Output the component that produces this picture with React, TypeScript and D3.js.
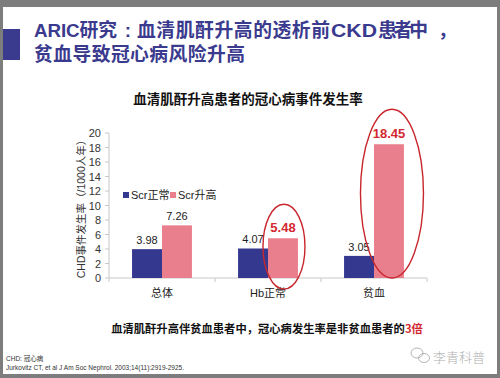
import React from "react";
import * as d3 from "d3";

const categories = ["总体", "Hb正常", "贫血"];
const seriesNames = ["Scr正常", "Scr升高"];
const scrNormal = [3.98, 4.07, 3.05];
const scrHigh = [7.26, 5.48, 18.45];
const yTicks = [0, 2, 4, 6, 8, 10, 12, 14, 16, 18, 20];
const highlighted = [false, true, true];

const W = 500;
const H = 378;
const BLUE = "#35388f";
const PINK = "#e97f8c";
const RED = "#d3282f";
const TITLE_BLUE = "#3a3a8e";
const CJK = "'Noto Sans CJK SC', 'Liberation Sans', sans-serif";
const LAT = "'Liberation Sans', Arial, 'Noto Sans CJK SC', sans-serif";

export default function App() {
  const x0 = d3.scaleBand<string>().domain(categories).range([109, 427]).padding(0);
  const bw = x0.bandwidth();
  const x1 = d3.scaleBand<string>().domain(seriesNames).range([0, bw]).paddingInner(0).paddingOuter(0.77);
  const y = d3.scaleLinear().domain([0, 20]).range([278, 133]);
  const data = categories.map((c, i) => ({ c, vals: [scrNormal[i], scrHigh[i]] }));

  const tProps = { fontWeight: "bold", fontSize: 18.8, fill: TITLE_BLUE } as const;

  return (
    <svg width={W} height={H} style={{ position: "absolute", left: 0, top: 0 }}>
      <rect x={0} y={0} width={W} height={H} fill="#7d7d7d" />
      <rect x={3} y={7} width={494} height={367} fill="#ffffff" />
      <rect x={3} y={29} width={17} height={31} fill={TITLE_BLUE} />
      <text x={34} y={37} fontFamily={LAT} {...tProps} textLength={83} lengthAdjust="spacing">ARIC研究</text>
      <text x={128} y={37} fontFamily={LAT} {...tProps} textAnchor="middle">:</text>
      <text x={137} y={37} fontFamily={CJK} {...tProps} textLength={193} lengthAdjust="spacing">血清肌酐升高的透析前</text>
      <text x={331} y={37} fontFamily={LAT} {...tProps} textLength={46} lengthAdjust="spacingAndGlyphs">CKD</text>
      <text x={378} y={37} fontFamily={CJK} {...tProps} textLength={50} lengthAdjust="spacing">患者中</text>
      <text x={438} y={37} fontFamily={CJK} {...tProps}>，</text>
      <text x={34} y={61} fontFamily={CJK} {...tProps} textLength={211} lengthAdjust="spacing">
        贫血导致冠心病风险升高
      </text>
      <text x={248} y={104} textAnchor="middle" fontFamily={CJK} fontWeight="bold" fontSize={13.5} fill="#111">
        血清肌酐升高患者的冠心病事件发生率
      </text>

      {/* y axis */}
      <line x1={109} x2={109} y1={y(20)} y2={y(0)} stroke="#c8c8c8" />
      {yTicks.map((t) => (
        <g key={t}>
          <line x1={105} x2={109} y1={y(t)} y2={y(t)} stroke="#c8c8c8" />
          <text x={101} y={y(t) + 4} textAnchor="end" fontFamily={LAT} fontSize={11} fill="#333">
            {t}
          </text>
        </g>
      ))}
      <text
        transform={`translate(84.5,${(143 + 270) / 2}) rotate(-90)`}
        textAnchor="middle"
        fontFamily={LAT}
        fontSize={10.5}
        fill="#333"
      >
        CHD事件发生率（/1000人年）
      </text>

      {/* x axis */}
      <line x1={109} x2={427} y1={y(0)} y2={y(0)} stroke="#c8c8c8" />
      {[...categories.map((c) => x0(c) as number), 427].map((v, i) => (
        <line key={i} x1={v} x2={v} y1={y(0)} y2={y(0) + 4} stroke="#c8c8c8" />
      ))}
      {categories.map((c) => (
        <text key={c} x={(x0(c) as number) + bw / 2} y={297} textAnchor="middle" fontFamily={LAT} fontSize={11} fill="#222">
          {c}
        </text>
      ))}

      {/* bars */}
      {data.map((d, i) => (
        <g key={d.c} transform={`translate(${x0(d.c)},0)`}>
          {d.vals.map((v, j) => {
            const bx = x1(seriesNames[j]) as number;
            const isRed = j === 1 && highlighted[i];
            return (
              <g key={j}>
                <rect x={bx} y={y(v)} width={x1.bandwidth()} height={y(0) - y(v)} fill={j === 0 ? BLUE : PINK} />
                <text
                  x={bx + x1.bandwidth() / 2}
                  y={y(v) - (isRed ? 6 : 5)}
                  textAnchor="middle"
                  fontFamily={LAT}
                  fontSize={isRed ? 13 : 11}
                  fontWeight={isRed ? "bold" : "normal"}
                  fill={isRed ? RED : "#222"}
                >
                  {v.toFixed(2)}
                </text>
              </g>
            );
          })}
        </g>
      ))}

      {/* highlight ellipses */}
      {(() => {
        const c1 = (x0(categories[1]) as number) + (x1(seriesNames[1]) as number) + x1.bandwidth() / 2;
        const c2 = (x0(categories[2]) as number) + (x1(seriesNames[1]) as number) + x1.bandwidth() / 2;
        const top1 = y(scrHigh[1]) - 34;
        const bot1 = y(0) + 11;
        const top2 = y(scrHigh[2]) - 35;
        const bot2 = y(0);
        return (
          <g fill="none" stroke="#c8262c" strokeWidth={1.4}>
            <ellipse cx={c1 + 1} cy={(top1 + bot1) / 2} rx={21} ry={(bot1 - top1) / 2} />
            <ellipse cx={c2 + 3} cy={(top2 + bot2) / 2} rx={31.5} ry={(bot2 - top2) / 2} />
          </g>
        );
      })()}

      {/* legend */}
      <rect x={123} y={192} width={6} height={6} fill={BLUE} />
      <text x={131} y={198.5} fontFamily={LAT} fontSize={11} fill="#222">Scr正常</text>
      <rect x={170} y={192} width={6} height={6} fill={PINK} />
      <text x={178} y={198.5} fontFamily={LAT} fontSize={11} fill="#222">Scr升高</text>

      {/* bottom note */}
      <text x={267} y={333} textAnchor="middle" fontFamily={CJK} fontWeight="bold" fontSize={11.3} fill="#111">
        血清肌酐升高伴贫血患者中，冠心病发生率是非贫血患者的<tspan fill={RED}>3倍</tspan>
      </text>

      <text x={6} y={361} fontFamily={LAT} fontSize={6.5} fill="#333">CHD: 冠心病</text>
      <text x={6} y={370} fontFamily={LAT} fontSize={6.5} fill="#333">
        Jurkovitz CT, et al J Am Soc Nephrol. 2003;14(11):2919-2925.
      </text>

      {/* watermark */}
      <g fill="none" stroke="#b5b5b5" strokeWidth={1}>
        <ellipse cx={417} cy={353} rx={6} ry={5} />
        <ellipse cx={424} cy={358} rx={5.5} ry={4.5} />
      </g>
      <text x={433} y={362} fontFamily={CJK} fontSize={13} fill="#b0b0b0" fontWeight={300}>
        李青科普
      </text>
    </svg>
  );
}
